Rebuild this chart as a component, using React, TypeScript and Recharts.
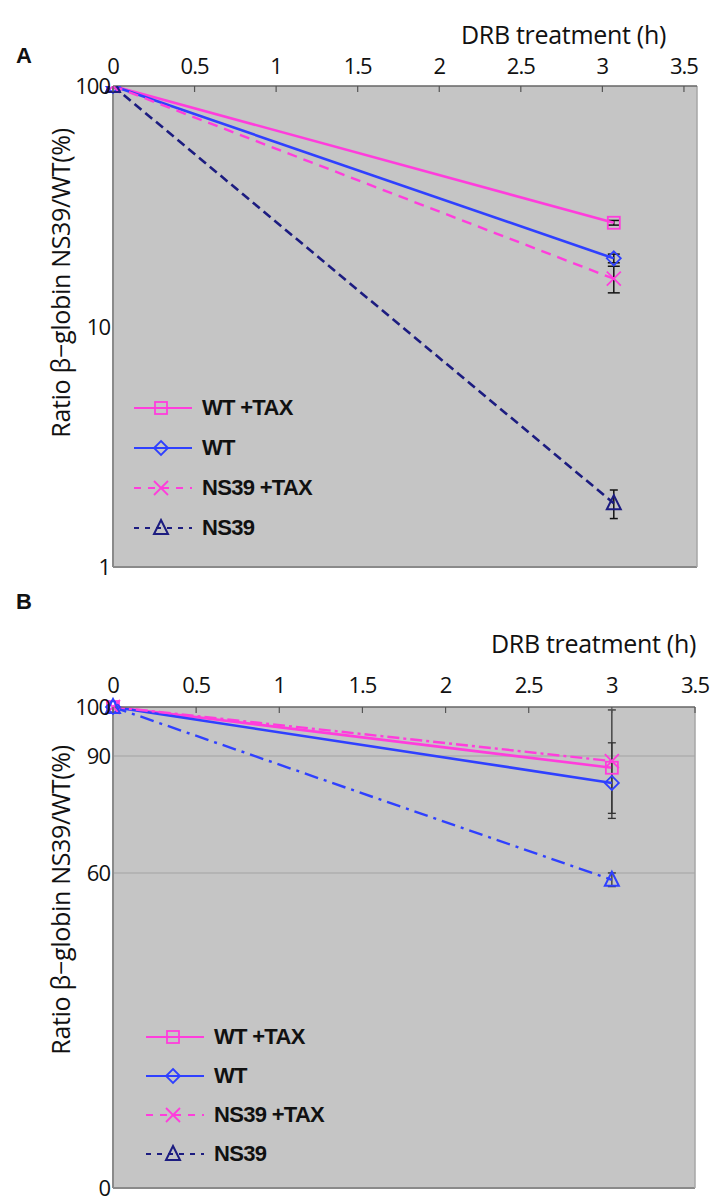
import React from 'react';
import { LineChart, Line, XAxis, YAxis, ErrorBar, CartesianGrid, ReferenceLine } from 'recharts';

// ---------- data ----------
const xTicks = [0, 0.5, 1, 1.5, 2, 2.5, 3, 3.5];
const seriesNames = ['WT +TAX', 'WT', 'NS39 +TAX', 'NS39'];

// Panel A (log scale)
const timeA = [0, 3.07];
const wtTaxA = [100, 27];
const wtA = [100, 19.2];
const ns39TaxA = [100, 15.8];
const ns39A = [100, 1.84];
const wtTaxErrA = [0, 0.6];
const wtErrA = [0, 0.8];
const ns39TaxErrA = [0, 2.0];
const ns39ErrA = [0, 0.25];
const yTicksA = [1, 10, 100];

// Panel B
const timeB = [0, 3];
const wtTaxB = [100, 87];
const wtB = [100, 83.1];
const ns39TaxB = [100, 88.7];
const ns39B = [100, 58.7];
const wtTaxErrB: (number | number[])[] = [0, [13, 12.4]];
const wtErrB: (number | number[])[] = [0, [7.8, 9.6]];
const ns39ErrB = [0, 1.3];
const yTicksB = [0, 60, 90, 100];
const yTickFracB = [0, 0.655, 0.898, 1];

const dataA = timeA.map((t, i) => ({
  t,
  wtTax: wtTaxA[i], wt: wtA[i], ns39Tax: ns39TaxA[i], ns39: ns39A[i],
  wtTaxErr: wtTaxErrA[i], wtErr: wtErrA[i], ns39TaxErr: ns39TaxErrA[i], ns39Err: ns39ErrA[i],
}));
const dataB = timeB.map((t, i) => ({
  t,
  wtTax: wtTaxB[i], wt: wtB[i], ns39Tax: ns39TaxB[i], ns39: ns39B[i],
  wtTaxErr: wtTaxErrB[i], wtErr: wtErrB[i], ns39Err: ns39ErrB[i],
}));

// ---------- styles ----------
const PINK = '#ff3ddc';
const BLUE = '#2f40ff';
const NAVY = '#1c1c80';
const BG = '#c5c5c5';
const TICK_FONT = '"Open Sans", "Noto Sans", sans-serif';
const BOLD_FONT = '"Liberation Sans", Arial, sans-serif';

// piecewise-linear scale for panel B's irregular axis
function makePiecewiseScale(stops: number[], fracs: number[]): any {
  let dom: number[] = [stops[0], stops[stops.length - 1]];
  let rng: number[] = [0, 1];
  const frac = (v: number) => {
    for (let i = 0; i < stops.length - 1; i++) {
      if (v <= stops[i + 1] || i === stops.length - 2) {
        const t = (v - stops[i]) / (stops[i + 1] - stops[i]);
        return fracs[i] + t * (fracs[i + 1] - fracs[i]);
      }
    }
    return 0;
  };
  const s: any = (v: number) => rng[0] + frac(v) * (rng[1] - rng[0]);
  s.domain = (d?: number[]) => { if (d === undefined) return dom.slice(); dom = d.slice(); return s; };
  s.range = (r?: number[]) => { if (r === undefined) return rng.slice(); rng = r.slice(); return s; };
  s.copy = () => makePiecewiseScale(stops, fracs).domain(dom).range(rng);
  s.ticks = () => stops.slice();
  s.invert = (px: number) => {
    const f = (px - rng[0]) / (rng[1] - rng[0]);
    for (let i = 0; i < fracs.length - 1; i++) {
      if (f <= fracs[i + 1] || i === fracs.length - 2) {
        const t = (f - fracs[i]) / (fracs[i + 1] - fracs[i]);
        return stops[i] + t * (stops[i + 1] - stops[i]);
      }
    }
    return stops[0];
  };
  return s;
}
const scaleB = makePiecewiseScale(yTicksB, yTickFracB);

// ---------- markers ----------
type MarkerKind = 'square' | 'diamond' | 'cross' | 'triangle';
function Marker({ kind, cx, cy, color }: { kind: MarkerKind; cx: number; cy: number; color: string }) {
  if (kind === 'square') {
    return <rect x={cx - 6} y={cy - 6} width={12} height={12} fill="none" stroke={color} strokeWidth={1.8} />;
  }
  if (kind === 'diamond') {
    return <polygon points={`${cx},${cy - 7} ${cx + 7},${cy} ${cx},${cy + 7} ${cx - 7},${cy}`} fill="none" stroke={color} strokeWidth={1.8} />;
  }
  if (kind === 'cross') {
    return (
      <g stroke={color} strokeWidth={1.8}>
        <line x1={cx - 7} y1={cy - 7} x2={cx + 7} y2={cy + 7} />
        <line x1={cx - 7} y1={cy + 7} x2={cx + 7} y2={cy - 7} />
      </g>
    );
  }
  return <polygon points={`${cx},${cy - 8} ${cx + 7},${cy + 6} ${cx - 7},${cy + 6}`} fill="none" stroke={color} strokeWidth={2} />;
}
const dotFn = (kind: MarkerKind, color: string) => (p: any) => (
  <Marker key={`${kind}-${p.index}`} kind={kind} cx={p.cx} cy={p.cy} color={color} />
);

// ---------- ticks ----------
const topTick = (margin: number) => (p: any) => {
  const { x, y, payload } = p;
  return (
    <g>
      <line x1={x} x2={x} y1={y + margin} y2={y + margin + 6} stroke="#555" strokeWidth={1.2} />
      <text x={x} y={y} textAnchor="middle" fontFamily={TICK_FONT} fontSize={22} fill="#111" letterSpacing={-1}>
        {String(payload.value)}
      </text>
    </g>
  );
};
const leftTick = (p: any) => {
  const { x, y, payload } = p;
  return (
    <text x={x} y={y + 8} textAnchor="end" fontFamily={TICK_FONT} fontSize={22} fill="#111" letterSpacing={-1}>
      {String(payload.value)}
    </text>
  );
};

// ---------- legend (HTML overlay) ----------
const legendStyles = [
  { color: PINK, dash: undefined as string | undefined, kind: 'square' as MarkerKind },
  { color: BLUE, dash: undefined as string | undefined, kind: 'diamond' as MarkerKind },
  { color: PINK, dash: '7 7', kind: 'cross' as MarkerKind },
  { color: NAVY, dash: '5 6', kind: 'triangle' as MarkerKind },
];
function LegendBox({ left, top, gap }: { left: number; top: number; gap: number }) {
  return (
    <div style={{ position: 'absolute', left, top }}>
      {seriesNames.map((name, i) => (
        <div key={name} style={{ display: 'flex', alignItems: 'center', height: gap }}>
          <svg width={66} height={20} style={{ display: 'block' }}>
            <line x1={2} y1={10} x2={60} y2={10} stroke={legendStyles[i].color} strokeWidth={2} strokeDasharray={legendStyles[i].dash} />
            <Marker kind={legendStyles[i].kind} cx={29} cy={10} color={legendStyles[i].kind === 'triangle' ? NAVY : legendStyles[i].color} />
          </svg>
          <span style={{ fontFamily: BOLD_FONT, fontWeight: 700, fontSize: 22, letterSpacing: -0.7, color: '#111', marginLeft: 4 }}>
            {name}
          </span>
        </div>
      ))}
    </div>
  );
}

function YTitle({ cx, cy }: { cx: number; cy: number }) {
  return (
    <div style={{
      position: 'absolute', left: cx - 200, top: cy - 16, width: 400, height: 32, lineHeight: '32px',
      textAlign: 'center', transform: 'rotate(-90deg)', fontFamily: TICK_FONT, fontSize: 25,
      letterSpacing: -0.3, color: '#111', whiteSpace: 'nowrap',
    }}>
      Ratio β−globin NS39/WT(%)
    </div>
  );
}

function XTitle({ right, cy }: { right: number; cy: number }) {
  return (
    <div style={{
      position: 'absolute', left: right - 300, top: cy - 16, width: 300, height: 32, lineHeight: '32px',
      textAlign: 'right', fontFamily: TICK_FONT, fontSize: 25, letterSpacing: -0.3, color: '#111', whiteSpace: 'nowrap',
    }}>
      DRB treatment (h)
    </div>
  );
}

function PanelLetter({ x, cy, text }: { x: number; cy: number; text: string }) {
  return (
    <div style={{ position: 'absolute', left: x, top: cy - 13, height: 26, lineHeight: '26px', fontFamily: BOLD_FONT, fontWeight: 700, fontSize: 22, color: '#111' }}>
      {text}
    </div>
  );
}

export default function App() {
  return (
    <div style={{ position: 'absolute', left: 0, top: 0, width: 717, height: 1203, background: '#fff', overflow: 'hidden' }}>
      {/* Panel A */}
      <div style={{ position: 'absolute', left: 0, top: 0 }}>
        <LineChart width={717} height={600} data={dataA} margin={{ top: 56, right: 20, bottom: 33, left: 53 }}>
          <CartesianGrid fill={BG} horizontal={false} vertical={false} stroke="none" />
          <XAxis dataKey="t" type="number" orientation="top" domain={[0, 3.58]} ticks={xTicks} height={30}
            axisLine={{ stroke: '#666', strokeWidth: 1.5 }} tickLine={false} tickSize={0} tickMargin={12}
            tick={topTick(12)} interval={0} allowDecimals />
          <YAxis type="number" scale="log" domain={[1, 100]} ticks={yTicksA} width={60}
            axisLine={{ stroke: '#8a8a8a', strokeWidth: 2 }} tickLine={false} tickSize={0} tickMargin={3}
            tick={leftTick} interval={0} allowDataOverflow />
          <ReferenceLine y={1} stroke="#8a8a8a" strokeWidth={2} />
          <ReferenceLine x={3.58} stroke="#a6a6a6" strokeWidth={1.5} />
          <Line dataKey="wtTax" stroke={PINK} strokeWidth={2.6} dot={dotFn('square', PINK)} isAnimationActive={false}>
            <ErrorBar dataKey="wtTaxErr" direction="y" width={6} stroke="#111" strokeWidth={1.5} />
          </Line>
          <Line dataKey="wt" stroke={BLUE} strokeWidth={2.6} dot={dotFn('diamond', BLUE)} isAnimationActive={false}>
            <ErrorBar dataKey="wtErr" direction="y" width={6} stroke="#111" strokeWidth={1.5} />
          </Line>
          <Line dataKey="ns39Tax" stroke={PINK} strokeWidth={2.4} strokeDasharray="10 7" dot={dotFn('cross', PINK)} isAnimationActive={false}>
            <ErrorBar dataKey="ns39TaxErr" direction="y" width={6} stroke="#111" strokeWidth={1.5} />
          </Line>
          <Line dataKey="ns39" stroke={NAVY} strokeWidth={2.6} strokeDasharray="9 5" dot={dotFn('triangle', NAVY)} isAnimationActive={false}>
            <ErrorBar dataKey="ns39Err" direction="y" width={4} stroke="#111" strokeWidth={1.5} />
          </Line>
        </LineChart>
      </div>

      {/* Panel B */}
      <div style={{ position: 'absolute', left: 0, top: 600 }}>
        <LineChart width={717} height={603} data={dataB} margin={{ top: 77, right: 22, bottom: 15, left: 53 }}>
          <CartesianGrid fill={BG} horizontal={false} vertical={false} stroke="none" />
          <XAxis dataKey="t" type="number" orientation="top" domain={[0, 3.5]} ticks={xTicks} height={30}
            axisLine={{ stroke: '#666', strokeWidth: 1.5 }} tickLine={false} tickSize={0} tickMargin={14}
            tick={topTick(14)} interval={0} />
          <YAxis type="number" scale={scaleB} domain={[0, 100]} ticks={yTicksB} width={60}
            axisLine={{ stroke: '#8a8a8a', strokeWidth: 2 }} tickLine={false} tickSize={0} tickMargin={3}
            tick={leftTick} interval={0} />
          <ReferenceLine y={90} stroke="#aeaeae" strokeWidth={1.5} />
          <ReferenceLine y={60} stroke="#aeaeae" strokeWidth={1.5} />
          <ReferenceLine y={0} stroke="#8a8a8a" strokeWidth={2} />
          <ReferenceLine x={3.5} stroke="#a6a6a6" strokeWidth={1.5} />
          <Line dataKey="wtTax" stroke={PINK} strokeWidth={2.6} dot={dotFn('square', PINK)} isAnimationActive={false}>
            <ErrorBar dataKey="wtTaxErr" direction="y" width={4} stroke="#333" strokeWidth={1.3} />
          </Line>
          <Line dataKey="wt" stroke={BLUE} strokeWidth={2.6} dot={dotFn('diamond', BLUE)} isAnimationActive={false}>
            <ErrorBar dataKey="wtErr" direction="y" width={4} stroke="#333" strokeWidth={1.3} />
          </Line>
          <Line dataKey="ns39Tax" stroke={PINK} strokeWidth={2.4} strokeDasharray="12 4 3 4" dot={dotFn('cross', PINK)} isAnimationActive={false} />
          <Line dataKey="ns39" stroke={BLUE} strokeWidth={2.4} strokeDasharray="14 6 3 6" dot={dotFn('triangle', BLUE)} isAnimationActive={false}>
            <ErrorBar dataKey="ns39Err" direction="y" width={4} stroke="#333" strokeWidth={1.3} />
          </Line>
        </LineChart>
      </div>

      <PanelLetter x={16} cy={56} text="A" />
      <PanelLetter x={16} cy={602} text="B" />
      <XTitle right={666} cy={34} />
      <XTitle right={696} cy={643} />
      <YTitle cx={60} cy={283} />
      <YTitle cx={60} cy={900} />
      <LegendBox left={132} top={388} gap={40} />
      <LegendBox left={144} top={1017} gap={39} />
    </div>
  );
}
